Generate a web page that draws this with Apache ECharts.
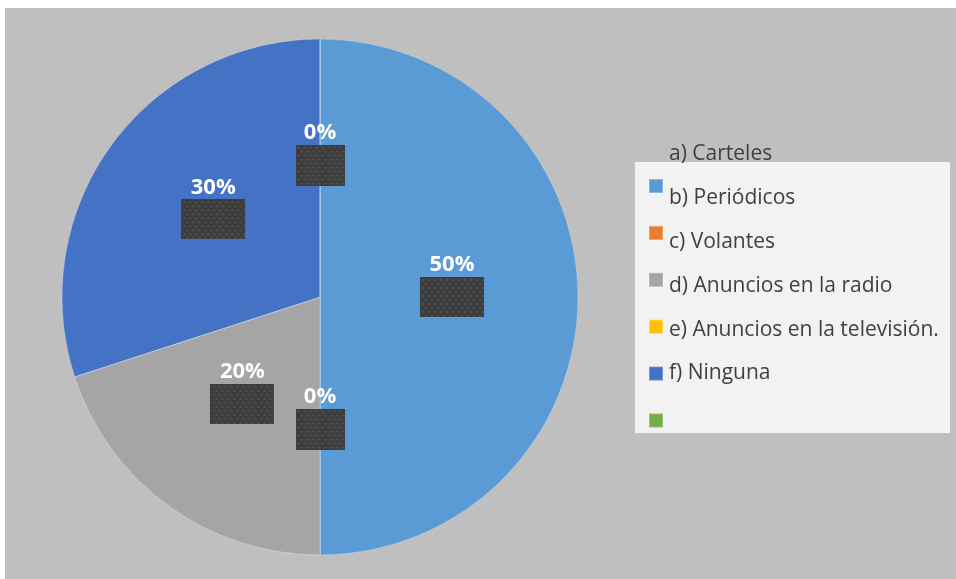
<!DOCTYPE html>
<html>
<head>
<meta charset="utf-8">
<script src="https://cdn.jsdelivr.net/npm/echarts@6/dist/echarts.min.js"></script>
<style>
html,body{margin:0;padding:0;background:#ffffff;}
#chart{width:956px;height:579px;}
</style>
</head>
<body>
<div id="chart"></div>
<script>
var categories = ['a) Carteles', 'b) Periódicos', 'c) Volantes', 'd) Anuncios en la radio', 'e) Anuncios en la televisión.', 'f) Ninguna', '\u00a0'];
var values = [0, 50, 0, 20, 0, 30, 0];
var colors = ['rgba(0,0,0,0)', '#5b9bd5', '#ed7d31', '#a5a5a5', '#ffc000', '#4472c4', '#70ad47'];
var showLabel = [true, true, true, true, true, true, false];

function makeTexture(w, h) {
  var c = document.createElement('canvas');
  c.width = w; c.height = h;
  var ctx = c.getContext('2d');
  ctx.fillStyle = '#3d3d3d';
  ctx.fillRect(0, 0, w, h);
  ctx.fillStyle = '#525252';
  for (var y = 2, row = 0; y < h; y += 4, row++) {
    for (var x = (row % 2 ? 5 : 2); x < w; x += 6) {
      ctx.fillRect(x, y, 2, 2);
    }
  }
  return c;
}
var texSmall = makeTexture(49, 41);
var texLarge = makeTexture(64, 40);

var boxShadow = {shadowColor: 'rgba(0,0,0,0.55)', shadowBlur: 5, shadowOffsetX: 4, shadowOffsetY: 4};

var seriesData = categories.map(function (n, i) {
  return {
    name: n,
    value: values[i],
    itemStyle: {color: colors[i]},
    label: {show: showLabel[i]}
  };
});

var chart = echarts.init(document.getElementById('chart'), null, {renderer: 'canvas'});
chart.setOption({
  backgroundColor: '#ffffff',
  animation: false,
  graphic: [
    {type: 'rect', left: 5, top: 8, shape: {x: 0, y: 0, width: 951, height: 571}, style: {fill: '#bfbfbf'}, z: -10},
    {type: 'rect', shape: {x: 635, y: 162, width: 315, height: 271}, style: {fill: '#f2f2f2'}, z: -5}
  ],
  legend: [{
    // markers only
    orient: 'vertical',
    left: 648,
    top: 178,
    padding: 0,
    itemWidth: 14,
    itemHeight: 14,
    itemGap: 30.9,
    selectedMode: false,
    icon: 'rect',
    data: categories.slice(1),
    formatter: function () { return ''; },
    textStyle: {fontSize: 1}
  }, {
    // text only
    orient: 'vertical',
    left: 662,
    top: 140,
    padding: 0,
    itemWidth: 1,
    itemHeight: 27,
    itemGap: 14.8,
    selectedMode: false,
    icon: 'rect',
    itemStyle: {opacity: 0},
    data: categories,
    textStyle: {
      fontFamily: 'Open Sans',
      fontSize: 21,
      lineHeight: 27,
      color: '#404040'
    }
  }],
  series: [{
    type: 'pie',
    center: [320, 297],
    radius: [0, 258],
    startAngle: 90,
    clockwise: true,
    avoidLabelOverlap: false,
    minAngle: 0,
    itemStyle: {borderColor: 'rgba(255,255,255,0.25)', borderWidth: 1},
    emphasis: {disabled: true},
    labelLine: {show: false},
    label: {
      position: 'inside',
      formatter: function (p) {
        var pct = Math.round(p.percent) + '%';
        var box = p.value > 0 ? 'bl' : 'bs';
        return '{t|' + pct + '}\n{' + box + '| }\n{s| }';
      },
      rich: {
        t: {fontFamily: 'Open Sans', fontWeight: 'bold', fontSize: 22, color: '#ffffff', lineHeight: 24, align: 'center'},
        bs: Object.assign({width: 49, height: 41, lineHeight: 41, backgroundColor: {image: texSmall}, color: 'transparent', align: 'center'}, boxShadow),
        bl: Object.assign({width: 64, height: 40, lineHeight: 40, backgroundColor: {image: texLarge}, color: 'transparent', align: 'center'}, boxShadow),
        s: {height: 24, lineHeight: 24, color: 'transparent'}
      }
    },
    data: seriesData
  }]
});
</script>
</body>
</html>
